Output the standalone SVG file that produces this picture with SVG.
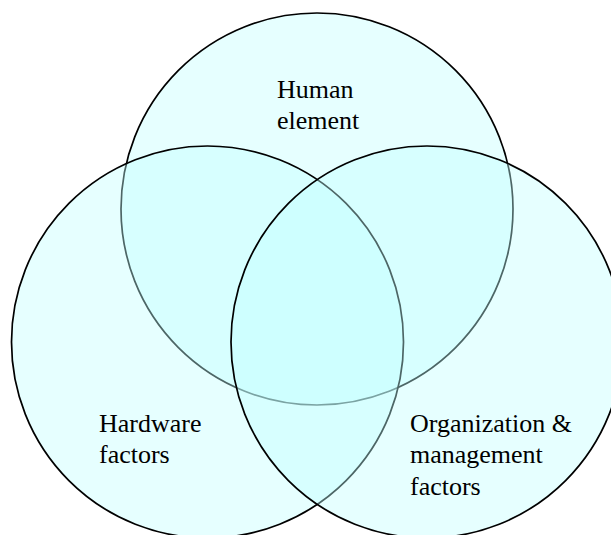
<svg xmlns="http://www.w3.org/2000/svg" width="611" height="535" viewBox="0 0 611 535">
  <style>
    .set { fill: #c0ffff; fill-opacity: 0.4; stroke: #000; stroke-width: 1.7; }
    .label { font-family: "Liberation Serif", "Times New Roman", serif; font-size: 26px; fill: #000; }
  </style>
  <rect width="611" height="535" fill="#ffffff"/>
  <!-- Drawn in order: top, left, right, so later circles tint the earlier outlines -->
  <g id="human-element">
    <circle class="set" cx="317" cy="209" r="196"/>
    <text class="label" x="277" y="98">Human</text>
    <text class="label" x="277" y="129">element</text>
  </g>
  <g id="hardware-factors">
    <circle class="set" cx="207.5" cy="342" r="196"/>
    <text class="label" x="99" y="432">Hardware</text>
    <text class="label" x="99" y="463">factors</text>
  </g>
  <g id="organization-management">
    <circle class="set" cx="427" cy="342" r="196"/>
    <text class="label" x="410" y="432">Organization &amp;</text>
    <text class="label" x="410" y="463">management</text>
    <text class="label" x="410" y="495">factors</text>
  </g>
  <g id="connectors"/>
</svg>
